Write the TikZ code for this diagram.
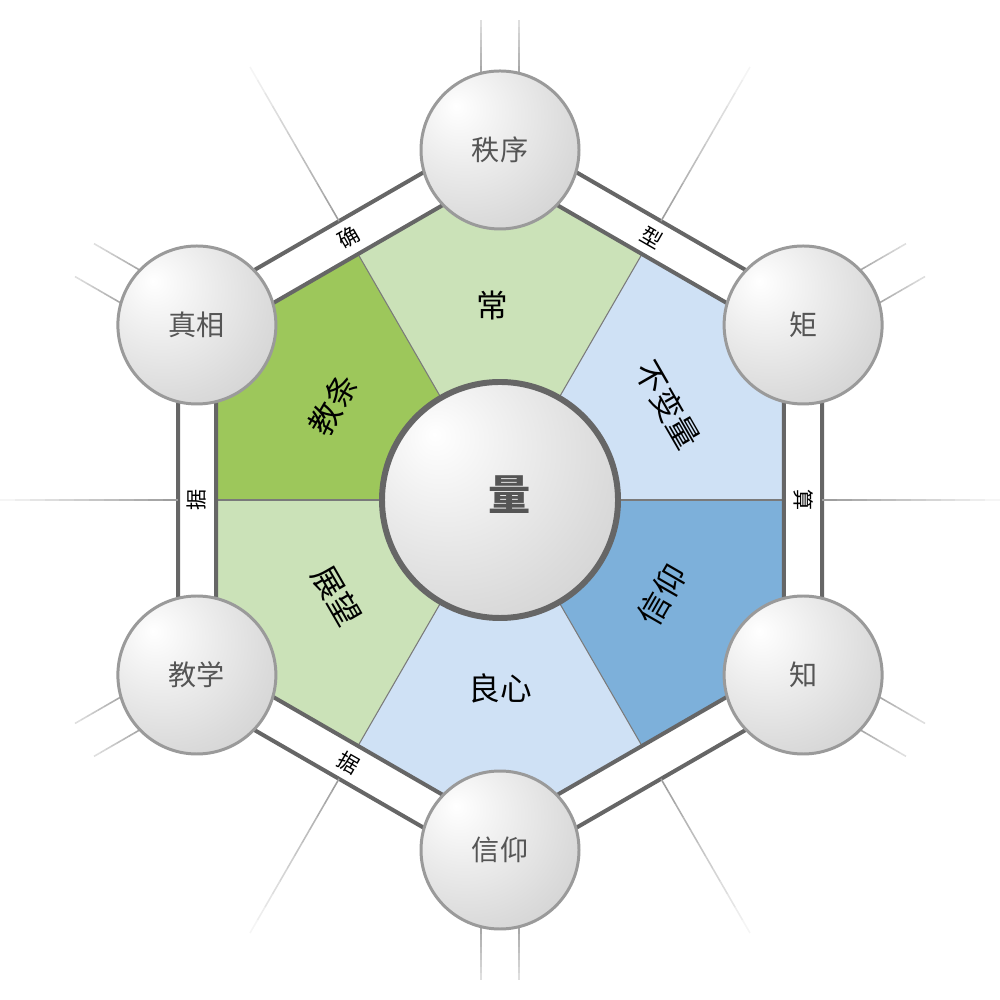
\documentclass[tikz,border=0pt]{standalone}
\usepackage{fontspec}
\setmainfont{Noto Sans CJK SC}
\usepackage{xcolor}
\usepackage{tikz}

\definecolor{bandgray}{HTML}{666666}
\definecolor{ringgray}{HTML}{9A9A9A}
\definecolor{spokegray}{HTML}{7A7A7A}
\definecolor{labelgray}{HTML}{555555}
\definecolor{lightgreen}{HTML}{CBE2B8}
\definecolor{darkgreen}{HTML}{9DC75B}
\definecolor{lightblue}{HTML}{CFE1F5}
\definecolor{midblue}{HTML}{7DB0DA}
\pgfdeclareradialshading{pearl}{\pgfpoint{-14bp}{14bp}}{color(0bp)=(white); color(18bp)=(black!8); color(32bp)=(black!14); color(50bp)=(black!21); color(70bp)=(black!28); color(100bp)=(black!28)}

\begin{document}
\begin{tikzpicture}[
    vtx/.style={circle, draw=ringgray, line width=0.85pt, minimum size=1.58cm, inner sep=0pt, shade, shading=pearl, text=labelgray, font=\fontsize{8}{9}\selectfont},
    hub/.style={circle, draw=bandgray, line width=1.7pt, minimum size=2.36cm, inner sep=0pt, shade, shading=pearl},
    seclbl/.style={font=\fontsize{9}{10}\selectfont, inner sep=0pt},
    edgelbl/.style={font=\fontsize{6}{7}\selectfont, inner sep=0pt, sloped, midway},
    band/.style={draw=bandgray, line width=1.14pt, line join=miter},
    spoke/.style={draw=spokegray, line width=0.3pt}
]
    \useasboundingbox (-5,-5) rectangle (5,5);

    % Sectors
    \foreach \a/\c in {90/lightgreen, 30/lightblue, -30/midblue, -90/lightblue, -150/lightgreen, 150/darkgreen}
        \fill[\c] (0,0) -- (\a-30:2.84) -- (\a:3.279) -- (\a+30:2.84) -- cycle;
    \foreach \a in {0,60,...,300}
        \draw[spoke] (0,0) -- (\a:2.84); % sector borders

    % Band
    \draw[band] (30:3.718) -- (90:3.718) -- (150:3.718) -- (210:3.718) -- (270:3.718) -- (330:3.718) -- cycle; % outer
    \draw[band] (30:3.279) -- (90:3.279) -- (150:3.279) -- (210:3.279) -- (270:3.279) -- (330:3.279) -- cycle; % inner

    % Fading rays
    \foreach \a in {0,60,...,300}
        \foreach \i in {0,...,11} {
            \pgfmathsetmacro\tone{38-3.1*\i}
            \draw[line width=0.45pt, black!\tone] (\a:{3.22+\i*0.1483}) -- (\a:{3.22+(\i+1)*0.1483});
        }
    \foreach \a in {90,30,-30,-90,-150,150}
        \foreach \s in {-0.19,0.19}
            \foreach \i in {0,...,7} {
                \pgfmathsetmacro\tone{34-3*\i}
                \draw[line width=0.45pt, black!\tone, rotate=\a] ({4.27+\i*0.066},\s) -- ({4.27+(\i+1)*0.066},\s);
            }

    % Nodes
    \node[hub] (qty) at (0,0) {}; % centre
    \node[text=labelgray, font=\fontsize{12}{13}\selectfont\bfseries] (qtylbl) at (0.1,0.05) {量};
    \foreach \a/\n/\t in {90/order/秩序, 30/moment/矩, -30/know/知, -90/faith/信仰, -150/teach/教学, 150/truth/真相}
        \node[vtx] (\n) at (\a:3.5) {\t};

    % Sector labels
    \node[seclbl] (chang) at (-0.08,1.95) {常};
    \node[seclbl, rotate=-60] (invar) at (1.68,0.95) {不变量};
    \node[seclbl, rotate=60] (belief) at (1.62,-0.95) {信仰};
    \node[seclbl] (conscience) at (0,-1.88) {良心};
    \node[seclbl, rotate=-60] (outlook) at (-1.63,-0.96) {展望};
    \node[seclbl, rotate=60] (dogma) at (-1.67,0.95) {教条};

    % Band labels
    \path (truth) -- (order) node[edgelbl] (lblque) {确};
    \path (order) -- (moment) node[edgelbl] (lblxing) {型};
    \path (moment) -- (know) node[edgelbl] (lblsuan) {算};
    \path (faith) -- (teach) node[edgelbl] (lblju) {据};
    \path (teach) -- (truth) node[edgelbl] (lbljuleft) {据};
\end{tikzpicture}
\end{document}
